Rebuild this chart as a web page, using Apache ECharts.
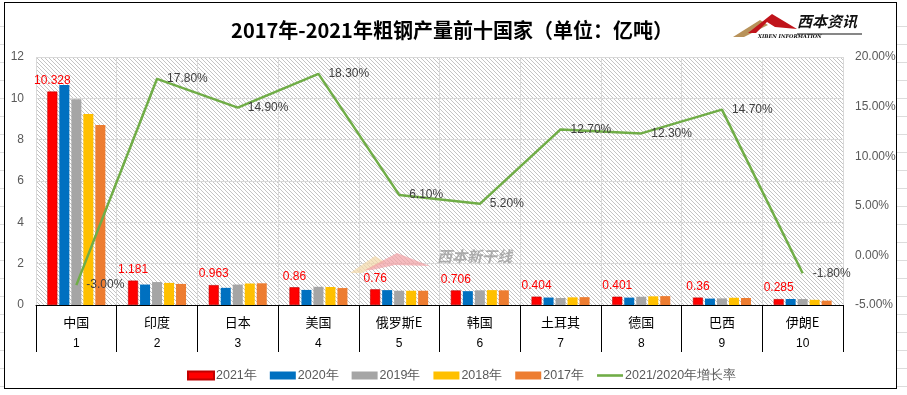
<!DOCTYPE html>
<html>
<head>
<meta charset="utf-8">
<script src="https://cdn.jsdelivr.net/npm/echarts@6/dist/echarts.min.js"></script>
<style>
html,body{margin:0;padding:0;background:#fff;}
body{background-image:repeating-linear-gradient(to bottom, transparent 0px, transparent 17px, #dcdcdc 17px, #dcdcdc 18px);background-position:0 9px;}
#wrap{position:relative;width:907px;height:395px;}
#frame{position:absolute;left:4px;top:2px;width:893px;height:387px;background:#fff;border:1.5px solid #000;box-sizing:border-box;}
#hatch{position:absolute;left:36px;top:57px;width:807px;height:248px;background-repeat:repeat;image-rendering:pixelated;}
#main{position:absolute;left:0;top:0;width:907px;height:395px;}
</style>
</head>
<body>
<div id="wrap"><div id="frame"></div><div id="hatch"></div><div id="main"></div></div>
<script>
const countries = ['中国','印度','日本','美国','俄罗斯E','韩国','土耳其','德国','巴西','伊朗E'];
const ranks = ['1','2','3','4','5','6','7','8','9','10'];
const y2021 = [10.328, 1.181, 0.963, 0.86, 0.76, 0.706, 0.404, 0.401, 0.36, 0.285];
const y2020 = [10.65, 0.99, 0.83, 0.73, 0.72, 0.67, 0.36, 0.357, 0.31, 0.29];
const y2019 = [9.96, 1.11, 0.99, 0.88, 0.69, 0.71, 0.34, 0.40, 0.32, 0.29];
const y2018 = [9.24, 1.07, 1.04, 0.87, 0.69, 0.72, 0.37, 0.42, 0.35, 0.25];
const y2017 = [8.71, 1.02, 1.05, 0.82, 0.69, 0.71, 0.38, 0.43, 0.34, 0.21];
const growth = [-3.0, 17.8, 14.9, 18.3, 6.1, 5.2, 12.7, 12.3, 14.7, -1.8];
const seriesNames = ['2021年','2020年','2019年','2018年','2017年','2021/2020年增长率'];
const leftTicks = {min:0, max:12, interval:2};
const rightTicks = {min:-5, max:20, interval:5};

// pixel-exact hatch pattern for the plot background
(function(){
  const pc = document.createElement('canvas');
  pc.width = 4; pc.height = 4;
  const c = pc.getContext('2d');
  c.fillStyle = '#ffffff'; c.fillRect(0,0,4,4);
  c.fillStyle = '#c4c4c4';
  for (let i=0;i<4;i++){ c.fillRect(i,i,1,1); }
  document.getElementById('hatch').style.backgroundImage = 'url(' + pc.toDataURL() + ')';
})();

const chart = echarts.init(document.getElementById('main'), null, {renderer:'canvas'});
const colors = ['#FF0000','#0070C0','#A5A5A5','#FFC000','#ED7D31','#70AD47'];
const barData = [y2021,y2020,y2019,y2018,y2017];

const series = barData.map((d,i)=>({
  name: seriesNames[i], type:'bar', yAxisIndex:0, data:d,
  barWidth:10, barGap:'20%',
  itemStyle:{color:colors[i], borderColor: i===0 ? '#C00000' : colors[i], borderWidth: i===0 ? 0.6 : 0},
  label: i===0 ? {show:true, position:'top', distance:5, color:'#FF0000', fontSize:12, fontFamily:'Liberation Sans, Arial, sans-serif', formatter:(p)=>String(p.value)} : {show:false},
  z:3
}));
series.push({
  name: seriesNames[5], type:'line', yAxisIndex:1, data:growth,
  symbol:'circle', symbolSize:0, showSymbol:true,
  lineStyle:{color:colors[5], width:2.5},
  itemStyle:{color:colors[5]},
  label:{show:true, position:'right', distance:10, color:'#404040', fontSize:12, fontFamily:'Liberation Sans, Arial, sans-serif', formatter:(p)=>p.value.toFixed(2)+'%'},
  z:5
});

const option = {
  animation:false,
  backgroundColor:'transparent',
  title:{
    text:'2017年-2021年粗钢产量前十国家（单位：亿吨）',
    left:447, textAlign:'center', top:15,
    textStyle:{fontSize:20, fontWeight:'bold', color:'#000', fontFamily:'Noto Sans CJK SC'}
  },
  legend:{
    data: seriesNames.map((n,i)=> i<5 ? {name:n, icon:'rect'} : {name:n, icon:'path://M0,0L30,0L30,3L0,3Z'}),
    left:182, top:364, itemWidth:26, itemHeight:8, itemGap:13,
    textStyle:{color:'#595959', fontSize:12.5, fontFamily:'Liberation Sans, Arial, sans-serif', padding:[0,0,0,-3]}
  },
  grid:{left:36, right:64, top:57, bottom:90, show:false},
  xAxis:{
    type:'category', data:countries, boundaryGap:true,
    axisLine:{show:true, lineStyle:{color:'#000', width:1}},
    axisTick:{show:true, length:47, lineStyle:{color:'#000', width:1}},
    splitLine:{show:true, lineStyle:{color:'#d9d9d9', width:1}},
    axisLabel:{
      margin:7, interval:0,
      formatter:(v,idx)=>'{a|'+v+'}\n{b|'+ranks[idx]+'}',
      rich:{
        a:{fontSize:13, color:'#000', lineHeight:21, fontFamily:'Noto Sans CJK SC'},
        b:{fontSize:12, color:'#000', lineHeight:21, fontFamily:'Liberation Sans, Arial, sans-serif'}
      }
    }
  },
  yAxis:[
    {type:'value', min:leftTicks.min, max:leftTicks.max, interval:leftTicks.interval,
     axisLine:{show:false}, axisTick:{show:false},
     splitLine:{show:true, lineStyle:{color:'#d9d9d9', width:1}},
     axisLabel:{color:'#595959', fontSize:12, margin:12, fontFamily:'Liberation Sans, Arial, sans-serif'}},
    {type:'value', min:rightTicks.min, max:rightTicks.max, interval:rightTicks.interval, position:'right',
     axisLine:{show:false}, axisTick:{show:false}, splitLine:{show:false},
     axisLabel:{color:'#595959', fontSize:12, margin:12, fontFamily:'Liberation Sans, Arial, sans-serif', formatter:(v)=>v.toFixed(2)+'%'}}
  ],
  graphic:{elements:[
    // top-right logo
    {type:'polygon', z:10, shape:{points:[[733,37],[760,20],[768,25],[744,37]]}, style:{fill:'#B8925A'}},
    {type:'polygon', z:10, shape:{points:[[748,33],[772,14],[797,29],[775,27],[767,22],[756,33]]}, style:{fill:'#C0141B'}},
    {type:'text', z:10, left:797, top:14, style:{text:'西本资讯', fill:'#111', font:'italic bold 15px "Noto Sans CJK SC"'}},
    {type:'line', z:10, shape:{x1:797, y1:34, x2:862, y2:34}, style:{stroke:'#111', lineWidth:1.2}},
    {type:'text', z:10, left:758, top:34, style:{text:'XIBEN INFORMATION', fill:'#111', font:'italic bold 5px "DejaVu Serif"'}},
    // center watermark
    {type:'polygon', z:10, shape:{points:[[350,273],[375,256],[385,262],[362,273]]}, style:{fill:'#F3D9A8', opacity:0.7}},
    {type:'polygon', z:10, shape:{points:[[365,270],[397,253],[430,266],[395,265],[372,270]]}, style:{fill:'#F2A0A4', opacity:0.7}},
    {type:'text', z:10, left:437, top:249, style:{text:'西本新干线', fill:'#9a9a9a', opacity:0.8, font:'italic bold 15px "Noto Sans CJK SC"'}}
  ]},
  series: series
};
chart.setOption(option);
</script>
</body>
</html>
